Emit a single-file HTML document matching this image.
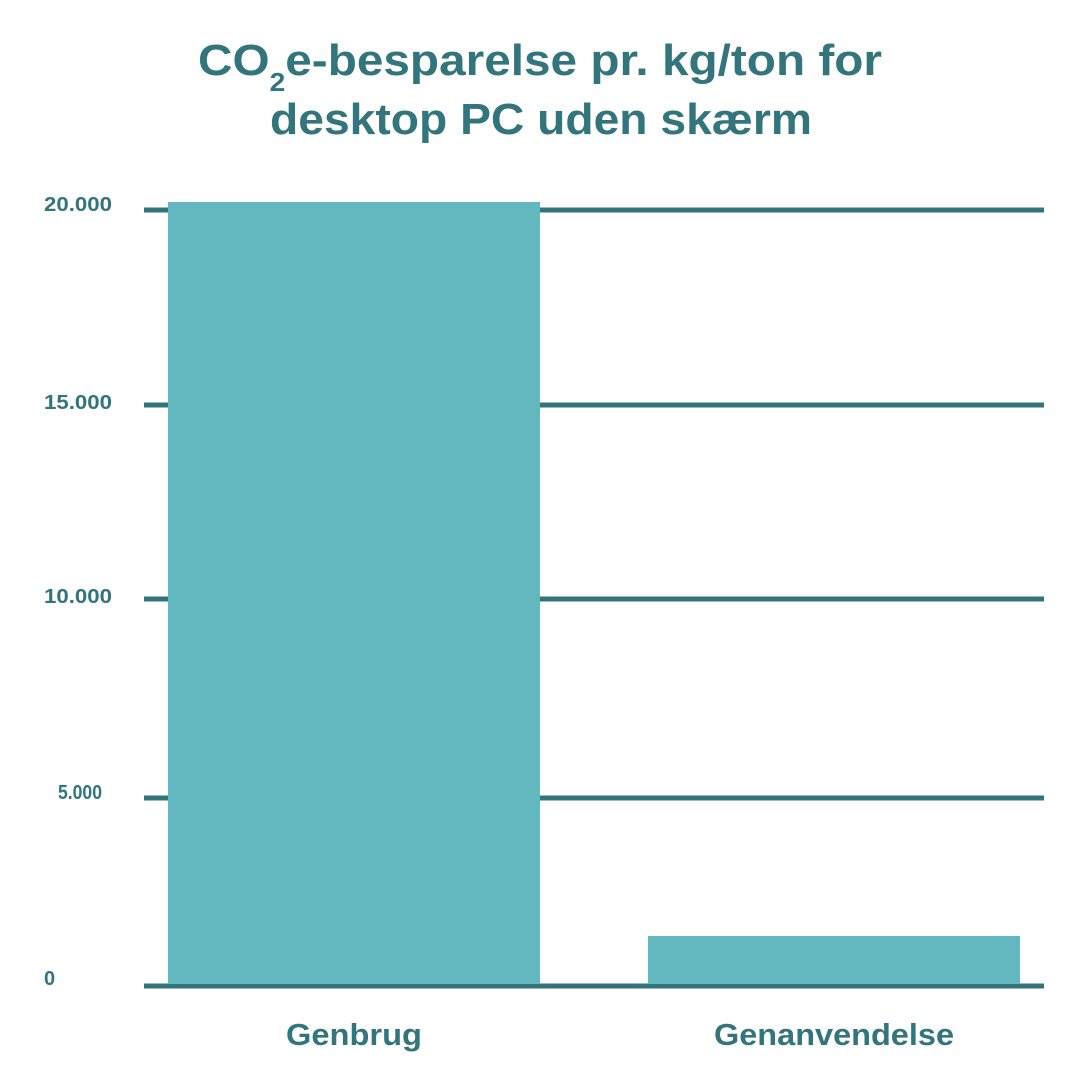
<!DOCTYPE html>
<html><head><meta charset="utf-8"><style>
html,body{margin:0;padding:0;background:#fff;}
svg{display:block;}
text{font-family:"Liberation Sans",sans-serif;font-weight:bold;fill:#33757c;}
</style></head><body>
<svg width="1080" height="1080" viewBox="0 0 1080 1080" xmlns="http://www.w3.org/2000/svg">
<rect width="1080" height="1080" fill="#fff"/>
<text x="198" y="75" font-size="44" textLength="684" lengthAdjust="spacingAndGlyphs">CO<tspan font-size="26" dy="16">2</tspan><tspan dy="-16">e-besparelse pr. kg/ton for</tspan></text>
<text x="270" y="134" font-size="44" textLength="542" lengthAdjust="spacingAndGlyphs">desktop PC uden skærm</text>
<g stroke="#33737a" stroke-width="5">
<line x1="144" y1="210" x2="1044" y2="210"/>
<line x1="144" y1="405" x2="1044" y2="405"/>
<line x1="144" y1="599" x2="1044" y2="599"/>
<line x1="144" y1="798" x2="1044" y2="798"/>
<line x1="144" y1="986" x2="1044" y2="986"/>
</g>
<rect x="168" y="202" width="372" height="782" fill="#62b8be"/>
<rect x="648" y="936" width="372" height="48" fill="#62b8be"/>
<g font-size="20">
<text x="44" y="211" textLength="68" lengthAdjust="spacingAndGlyphs">20.000</text>
<text x="44" y="409" textLength="68" lengthAdjust="spacingAndGlyphs">15.000</text>
<text x="44" y="603" textLength="68" lengthAdjust="spacingAndGlyphs">10.000</text>
<text x="58" y="799" textLength="44" lengthAdjust="spacingAndGlyphs">5.000</text>
<text x="44" y="985">0</text>
</g>
<text x="286" y="1045" font-size="31" textLength="136" lengthAdjust="spacingAndGlyphs">Genbrug</text>
<text x="714" y="1045" font-size="31" textLength="240" lengthAdjust="spacingAndGlyphs">Genanvendelse</text>
</svg>
</body></html>
